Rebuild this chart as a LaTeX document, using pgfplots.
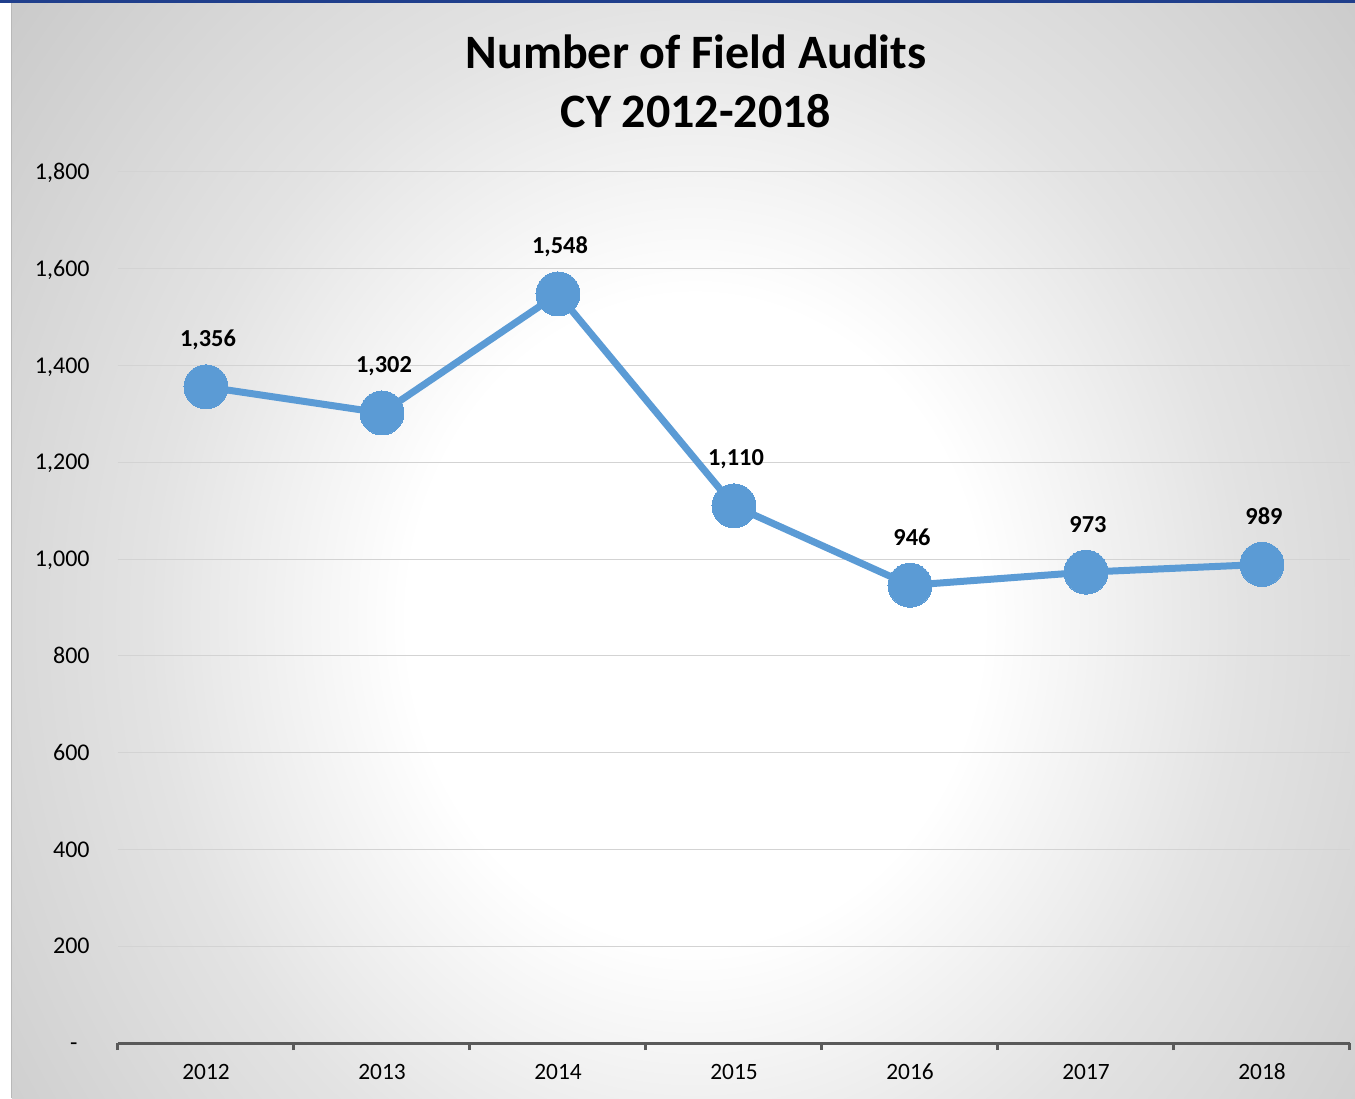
\documentclass[border=0pt]{standalone}
\usepackage{pgfplots}
\pgfplotsset{compat=1.18}
\usepackage{fontspec}
\setmainfont{Carlito}
\definecolor{ser}{HTML}{5B9BD5}
\definecolor{axg}{HTML}{595959}
\definecolor{grd}{HTML}{D3D3D3}
\definecolor{navy}{HTML}{203F8C}
\pgfdeclareradialshading{bgshade}{\pgfpoint{0bp}{0bp}}{color(0bp)=(white); color(10.5bp)=(white); color(20bp)=(black!11); color(25bp)=(black!15); color(32.5bp)=(black!21); color(35.5bp)=(black!22); color(50bp)=(black!22)}
\begin{document}
\begin{tikzpicture}
\useasboundingbox (-59pt,-27.5pt) rectangle (618.5pt,521.5pt);
\fill[white] (-59pt,-27.5pt) rectangle (618.5pt,521.5pt);
\begin{scope}
\clip (-53pt,-27.5pt) rectangle (618.5pt,520pt);
\shade[shading=bgshade] (-53pt,-174pt) rectangle (630pt,597pt);
\end{scope}
\draw[black!28, line width=0.5pt] (-53pt,-27.5pt) -- (-53pt,520pt);
\fill[navy] (-59pt,520pt) rectangle (618.5pt,521.5pt);
\begin{axis}[
  at={(0pt,0pt)}, anchor=south west,
  scale only axis, width=616pt, height=435.5pt,
  xmin=-0.5, xmax=6.5, ymin=0, ymax=1800,
  xtick={0,1,2,3,4,5,6},
  xticklabels={2012,2013,2014,2015,2016,2017,2018},
  minor xtick={-0.5,0.5,1.5,2.5,3.5,4.5,5.5,6.5},
  ytick={0,200,400,600,800,1000,1200,1400,1600,1800},
  yticklabels={{-\hphantom{0}},200,400,600,800,{1,000},{1,200},{1,400},{1,600},{1,800}},
  ymajorgrids,
  major grid style={grd, line width=0.5pt},
  axis x line*=bottom, axis y line*=left,
  y axis line style={draw=none},
  x axis line style={axg, line width=1.5pt},
  major tick length=0pt, minor tick length=3.5pt, tick align=outside,
  minor tick style={axg, line width=1.5pt},
  tick label style={font=\fontsize{11.7}{13}\selectfont, black},
  yticklabel style={anchor=base east, inner sep=0pt, xshift=-14pt, yshift=-3.8pt, font=\fontsize{12}{13}\selectfont},
  xticklabel style={anchor=base, inner sep=0pt, yshift=-18.4pt},
  clip=false,
  nodes near coords,
  point meta=explicit symbolic,
  every node near coord/.append style={font=\fontsize{12.2}{13}\selectfont\bfseries, black, anchor=base, yshift=20pt, xshift=1pt},
]
\addplot[ser, line width=3.5pt, mark=*, mark size=11pt, mark options={fill=ser, draw=ser, line width=0pt}]
coordinates {
(0,1356) [1,356]
(1,1302) [1,302]
(2,1548) [1,548]
(3,1110) [1,110]
(4,946) [946]
(5,973) [973]
(6,989) [989]
};
\end{axis}
\node[anchor=base, font=\fontsize{24}{29}\selectfont\bfseries, black] at (289pt,487pt) {Number of Field Audits};
\node[anchor=base, font=\fontsize{24}{29}\selectfont\bfseries, black] at (289pt,457.5pt) {CY 2012-2018};
\end{tikzpicture}
\end{document}
